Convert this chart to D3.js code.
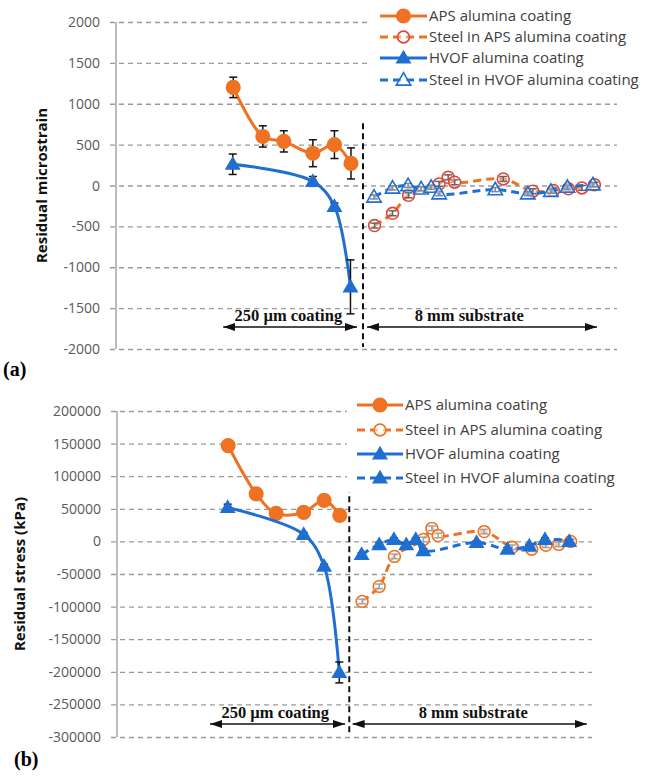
<!DOCTYPE html>
<html>
<head>
<meta charset="utf-8">
<script src="https://cdn.jsdelivr.net/npm/d3@7"></script>
<style>
body { margin: 0; background: #fff; }
svg text { font-family: "Open Sans", sans-serif; }
</style>
</head>
<body>
<div id="chart"></div>
<script>
// measurement positions along the sample (arbitrary units: coating left of the divider, steel right)
var apsX       = [23.4, 29.3, 33.5, 39.3, 43.6, 46.9];
var hvofX      = [23.3, 39.3, 43.6, 46.8];
var steelApsX  = [51.6, 55.2, 58.4, 64.5, 66.3, 67.6, 77.3, 83.2, 87.3, 90.3, 93.0, 95.5];
var steelHvofX = [51.5, 55.2, 58.3, 60.9, 62.9, 64.5, 75.7, 82.2, 86.8, 90.1, 95.2];

// (a) residual microstrain
var apsStrain          = [1200, 600, 540, 395, 500, 270];
var apsStrainErr       = [125, 130, 130, 165, 170, 190];
var hvofStrain         = [260, 50, -255, -1240];
var hvofStrainErr      = [125, 60, 40, 330];
var steelApsStrain     = [-490, -340, -120, 20, 100, 40, 80, -70, -60, -40, -30, 10];
var steelApsStrainErr  = [30, 30, 30, 30, 30, 30, 30, 30, 30, 30, 30, 30];
var steelHvofStrain    = [-140, -30, 0, -40, -20, -100, -50, -100, -70, -20, 10];
var steelHvofStrainErr = [25, 25, 25, 25, 25, 25, 25, 25, 25, 25, 25];

// (b) residual stress (kPa)
var apsStress          = [147000, 73000, 43000, 44500, 63000, 40000];
var apsStressErr       = [3000, 3000, 3000, 3000, 3000, 3000];
var hvofStress         = [52000, 10700, -38000, -201000];
var hvofStressErr      = [5000, 3000, 3000, 16000];
var steelApsStress     = [-92000, -69000, -23000, 3000, 20000, 9000, 15000, -9000, -12000, -6000, -4600, 0];
var steelApsStressErr  = [3500, 3500, 3500, 3500, 3500, 3500, 3500, 3500, 3500, 3500, 3500, 3500];
var steelHvofStress    = [-20000, -5000, 3000, -5000, 3000, -14000, -1500, -12000, -7000, 3000, 0];
var steelHvofStressErr = [2500, 2500, 2500, 2500, 2500, 2500, 2500, 2500, 2500, 2500, 2500];

var seriesNames = ["APS alumina coating", "Steel in APS alumina coating",
                   "HVOF alumina coating", "Steel in HVOF alumina coating"];
var strainTicks = [2000, 1500, 1000, 500, 0, -500, -1000, -1500, -2000];
var stressTicks = [200000, 150000, 100000, 50000, 0, -50000, -100000, -150000, -200000, -250000, -300000];

var ORANGE = "#ee7222", BLUE = "#1f6fd3", RED = "#e0443a";

var svg = d3.select("#chart").append("svg")
  .attr("width", 647).attr("height", 777);

var defs = svg.append("defs");
defs.append("marker").attr("id", "arrowEnd")
  .attr("viewBox", "0 0 12 8").attr("refX", 12).attr("refY", 4)
  .attr("markerWidth", 12).attr("markerHeight", 8).attr("markerUnits", "userSpaceOnUse")
  .attr("orient", "auto")
  .append("path").attr("d", "M0,0L12,4L0,8Z").attr("fill", "#111");
defs.append("marker").attr("id", "arrowStart")
  .attr("viewBox", "0 0 12 8").attr("refX", 0).attr("refY", 4)
  .attr("markerWidth", 12).attr("markerHeight", 8).attr("markerUnits", "userSpaceOnUse")
  .attr("orient", "auto")
  .append("path").attr("d", "M12,0L0,4L12,8Z").attr("fill", "#111");

function zip(xs, ys, es) {
  return xs.map(function (x, i) { return { x: x, y: ys[i], e: es[i] }; });
}

function drawPanel(cfg) {
  var xScale = d3.scaleLinear().domain([0, 100]).range([cfg.left, cfg.right]);
  var yScale = d3.scaleLinear().domain([cfg.yMin, cfg.yMax]).range([cfg.bottom, cfg.top]);
  var g = svg.append("g");

  // gridlines
  g.append("g")
    .attr("transform", "translate(" + cfg.left + ",0)")
    .call(d3.axisLeft(yScale).tickValues(cfg.ticks).tickSize(-(cfg.right - cfg.left)).tickSizeOuter(0)
      .tickFormat(""))
    .call(function (a) {
      a.select(".domain").remove();
      a.selectAll("line").attr("x1", -6)
        .attr("stroke", "#9a9a9a").attr("stroke-width", 1.3).attr("stroke-dasharray", "5,4");
    });

  // y axis line + labels
  g.append("line")
    .attr("x1", cfg.left).attr("x2", cfg.left)
    .attr("y1", yScale(cfg.yMax)).attr("y2", yScale(cfg.yMin))
    .attr("stroke", "#a6a6a6").attr("stroke-width", 1.5);
  g.selectAll(".ylab").data(cfg.ticks).enter().append("text")
    .attr("x", cfg.left - 16).attr("y", function (d) { return yScale(d) + 5; })
    .attr("text-anchor", "end").attr("font-size", 14).attr("fill", "#595959")
    .text(function (d) { return d; });
  g.append("text")
    .attr("transform", "translate(" + cfg.titleX + "," + ((cfg.top + cfg.bottom) / 2) + ") rotate(-90)")
    .attr("text-anchor", "middle").attr("font-size", 15).attr("font-weight", "bold").attr("fill", "#111")
    .text(cfg.title);

  // divider between coating and substrate
  g.append("line")
    .attr("x1", xScale(cfg.divider)).attr("x2", xScale(cfg.divider))
    .attr("y1", yScale(cfg.dividerTop)).attr("y2", cfg.bottom - 2)
    .attr("stroke", "#111").attr("stroke-width", 2).attr("stroke-dasharray", "6,4");

  // region arrows
  var ay = cfg.bottom - cfg.arrowOffset;
  cfg.regions.forEach(function (r) {
    g.append("line")
      .attr("x1", xScale(r.from)).attr("x2", xScale(r.to)).attr("y1", ay).attr("y2", ay)
      .attr("stroke", "#111").attr("stroke-width", 1.6)
      .attr("marker-start", "url(#arrowStart)").attr("marker-end", "url(#arrowEnd)");
    g.append("text")
      .attr("x", xScale(r.label)).attr("y", ay - 6)
      .attr("text-anchor", "middle").attr("font-size", 16.5).attr("font-weight", "bold")
      .style("font-family", "'Liberation Serif', serif").attr("fill", "#111")
      .text(r.text);
  });

  var line = d3.line()
    .x(function (d) { return xScale(d.x); })
    .y(function (d) { return yScale(d.y); })
    .curve(d3.curveCatmullRom.alpha(0.5));

  cfg.series.forEach(function (s) {
    g.append("path")
      .attr("d", line(s.data))
      .attr("fill", "none").attr("stroke", s.color).attr("stroke-width", 3)
      .attr("stroke-dasharray", s.dashed ? "8,5" : null);

    // error bars
    var eb = g.append("g").attr("stroke", "#111").attr("stroke-width", 1.5);
    s.data.forEach(function (d) {
      var cx = xScale(d.x);
      eb.append("line").attr("x1", cx).attr("x2", cx)
        .attr("y1", yScale(d.y + d.e)).attr("y2", yScale(d.y - d.e));
      [d.y + d.e, d.y - d.e].forEach(function (v) {
        eb.append("line").attr("x1", cx - 4).attr("x2", cx + 4)
          .attr("y1", yScale(v)).attr("y2", yScale(v));
      });
    });

    drawMarkers(g, s, s.data.map(function (d) { return [xScale(d.x), yScale(d.y)]; }));
  });

  // legend
  var lg = g.append("g");
  lg.append("rect").attr("x", cfg.legend.x0).attr("y", cfg.legend.y0)
    .attr("width", 647 - cfg.legend.x0).attr("height", cfg.legend.h).attr("fill", "#fff");
  cfg.series.forEach(function (s, i) {
    var y = cfg.legend.rows[i];
    lg.append("line").attr("x1", cfg.legend.lx1).attr("x2", cfg.legend.lx2)
      .attr("y1", y).attr("y2", y)
      .attr("stroke", s.color).attr("stroke-width", 3)
      .attr("stroke-dasharray", s.dashed ? "8,5" : null);
    drawMarkers(lg, s, [[(cfg.legend.lx1 + cfg.legend.lx2) / 2, y]]);
    lg.append("text").attr("x", cfg.legend.lx2 + 2).attr("y", y + 5)
      .attr("font-size", 15).attr("fill", "#404040").text(s.name);
  });
}

function drawMarkers(g, s, pts) {
  var sym = d3.symbol().type(s.shape === "circle" ? d3.symbolCircle : d3.symbolTriangle)
    .size(s.size);
  g.selectAll(null).data(pts).enter().append("path")
    .attr("d", sym)
    .attr("transform", function (p) { return "translate(" + p[0] + "," + (p[1] + (s.shape === "circle" ? 0 : 1)) + ")"; })
    .attr("fill", s.fill).attr("fill-opacity", s.fillOpacity == null ? 1 : s.fillOpacity)
    .attr("stroke", s.stroke || "none").attr("stroke-width", 1.6);
}

drawPanel({
  left: 116, right: 617, top: 22, bottom: 349,
  yMin: -2000, yMax: 2000, ticks: strainTicks,
  title: "Residual microstrain", titleX: 47,
  divider: 49.3, dividerTop: 760,
  arrowOffset: 22,
  regions: [
    { from: 21.4, to: 48.1, label: 34.4, text: "250 \u00b5m coating" },
    { from: 50.1, to: 96.0, label: 70.5, text: "8 mm substrate" }
  ],
  legend: { x0: 367, y0: 0, h: 95, lx1: 380, lx2: 427, rows: [16, 37, 58, 80] },
  series: [
    { name: seriesNames[0], data: zip(apsX, apsStrain, apsStrainErr), color: ORANGE,
      shape: "circle", size: 180, fill: ORANGE },
    { name: seriesNames[1], data: zip(steelApsX, steelApsStrain, steelApsStrainErr), color: ORANGE, dashed: true,
      shape: "circle", size: 110, fill: "#fff", fillOpacity: 0.35, stroke: RED },
    { name: seriesNames[2], data: zip(hvofX, hvofStrain, hvofStrainErr), color: BLUE,
      shape: "triangle", size: 110, fill: BLUE },
    { name: seriesNames[3], data: zip(steelHvofX, steelHvofStrain, steelHvofStrainErr), color: BLUE, dashed: true,
      shape: "triangle", size: 90, fill: "#fff", fillOpacity: 0.5, stroke: BLUE }
  ]
});

drawPanel({
  left: 117, right: 592, top: 411, bottom: 737,
  yMin: -300000, yMax: 200000, ticks: stressTicks,
  title: "Residual stress (kPa)", titleX: 25,
  divider: 48.9, dividerTop: 100000,
  arrowOffset: 13,
  regions: [
    { from: 19.6, to: 48.0, label: 33.3, text: "250 \u00b5m coating" },
    { from: 49.6, to: 98.9, label: 75.0, text: "8 mm substrate" }
  ],
  legend: { x0: 347, y0: 392, h: 100, lx1: 357, lx2: 403, rows: [405, 430, 454, 478] },
  series: [
    { name: seriesNames[0], data: zip(apsX, apsStress, apsStressErr), color: ORANGE,
      shape: "circle", size: 180, fill: ORANGE },
    { name: seriesNames[1], data: zip(steelApsX, steelApsStress, steelApsStressErr), color: ORANGE, dashed: true,
      shape: "circle", size: 110, fill: "#fff", fillOpacity: 0.6, stroke: ORANGE },
    { name: seriesNames[2], data: zip(hvofX, hvofStress, hvofStressErr), color: BLUE,
      shape: "triangle", size: 110, fill: BLUE },
    { name: seriesNames[3], data: zip(steelHvofX, steelHvofStress, steelHvofStressErr), color: BLUE, dashed: true,
      shape: "triangle", size: 110, fill: BLUE }
  ]
});

// panel letters
svg.append("text").attr("x", 3).attr("y", 376).attr("font-size", 20).attr("font-weight", "bold")
  .style("font-family", "'Liberation Serif', serif").text("(a)");
svg.append("text").attr("x", 14).attr("y", 766).attr("font-size", 20).attr("font-weight", "bold")
  .style("font-family", "'Liberation Serif', serif").text("(b)");
</script>
</body>
</html>
